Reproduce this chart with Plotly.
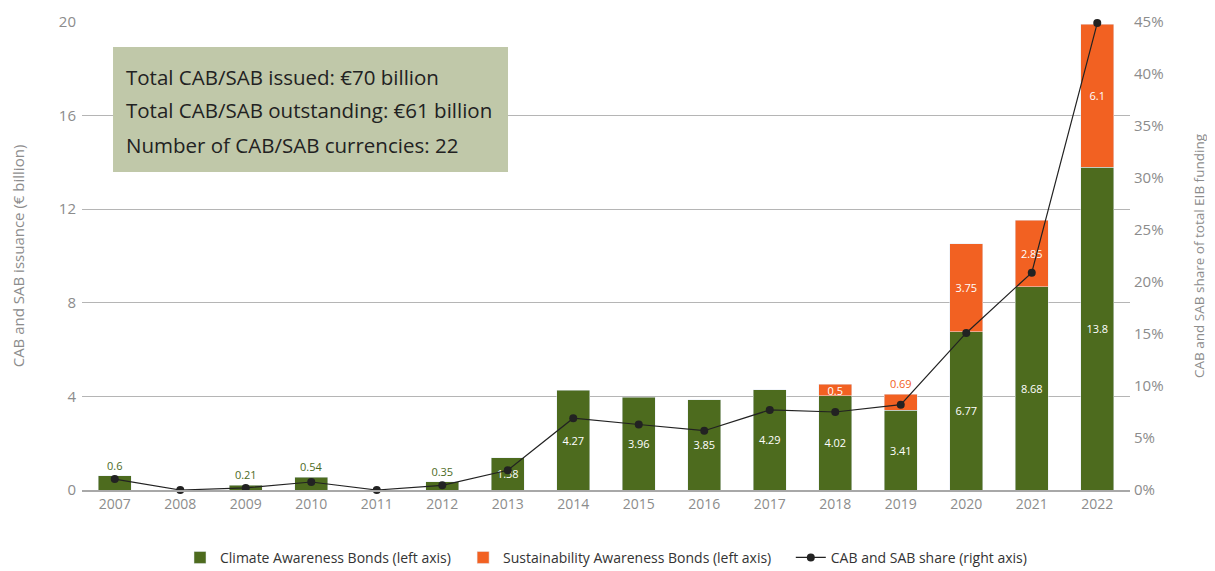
import plotly.graph_objects as go

years = [str(y) for y in range(2007, 2023)]
cab = [0.6, 0, 0.21, 0.54, 0, 0.35, 1.38, 4.27, 3.96, 3.85, 4.29, 4.02, 3.41, 6.77, 8.68, 13.8]
sab = [None, None, None, None, None, None, None, None, None, None, None, 0.5, 0.69, 3.75, 2.85, 6.1]
share = [1.05, 0.0, 0.2, 0.77, 0.0, 0.45, 1.9, 6.9, 6.3, 5.7, 7.7, 7.5, 8.2, 15.1, 20.9, 44.9]
info_lines = [
    "Total CAB/SAB issued: €70 billion",
    "Total CAB/SAB outstanding: €61 billion",
    "Number of CAB/SAB currencies: 22",
]

GREEN = "#4d6b1e"
ORANGE = "#f26122"
GRAY = "#8c8c8c"
FONT = "Open Sans"

cab_text = ["" if v == 0 else f"{v:g}" for v in cab]
cab_pos = ["outside" if v < 1 else "inside" for v in cab]
cab_colors = [GREEN if v < 1 else "white" for v in cab]
sab_text = ["" if v is None else f"{v:g}" for v in sab]
sab_pos = ["outside" if (v is not None and 0.6 < v < 1) else "inside" for v in sab]
sab_colors = [ORANGE if (v is not None and 0.6 < v < 1) else "white" for v in sab]

NB = "\u00a0"
fig = go.Figure()
fig.add_trace(go.Bar(
    x=years, y=cab, name="Climate Awareness Bonds (left axis)" + NB * 2,
    marker_color=GREEN, text=cab_text, textposition=cab_pos,
    textfont=dict(color=cab_colors, size=11, family=FONT),
    insidetextanchor="middle", constraintext="none", cliponaxis=False,
    hoverinfo="skip",
))
fig.add_trace(go.Bar(
    x=years, y=sab, name="Sustainability Awareness Bonds (left axis)" + NB * 4,
    marker_color=ORANGE, text=sab_text, textposition=sab_pos,
    textfont=dict(color=sab_colors, size=11, family=FONT),
    insidetextanchor="middle", constraintext="none", cliponaxis=False,
    hoverinfo="skip",
))
fig.add_trace(go.Scatter(
    x=years, y=share, yaxis="y2", mode="lines+markers",
    name="CAB and SAB share (right axis)",
    line=dict(color="#222222", width=1.2),
    marker=dict(color="#222222", size=8), cliponaxis=False,
))

fig.add_shape(type="rect", xref="paper", yref="paper",
              x0=0.0296, x1=0.4065, y0=0.6795, y1=0.9466,
              fillcolor="#c0c8a9", line=dict(width=0), layer="above")
for line, yy in zip(info_lines, [0.8825, 0.812, 0.737]):
    fig.add_annotation(text=line, xref="paper", yref="paper", x=0.04, y=yy,
                       xanchor="left", yanchor="middle", showarrow=False,
                       font=dict(size=20.5, color="#222222", family=FONT))

fig.update_layout(
    width=1207, height=563,
    margin=dict(l=74, r=85, t=14, b=81, autoexpand=False),
    plot_bgcolor="white", paper_bgcolor="white",
    barmode="stack", bargap=0.5,
    font=dict(family=FONT, color=GRAY, size=13),
    showlegend=True,
    legend=dict(orientation="h", x=0.5, xanchor="center", y=-0.145, yanchor="middle",
                font=dict(size=14, color="#333333"), traceorder="normal",
                itemwidth=30),
    xaxis=dict(type="category", range=[-0.5, 15.5], showline=True, linecolor="#a8a8a8",
               linewidth=1.5, ticks="", automargin=False,
               tickfont=dict(size=14, color=GRAY)),
    yaxis=dict(range=[0, 20], dtick=4, showgrid=True, gridcolor="#b5b5b5", gridwidth=1,
               zeroline=False, ticks="", automargin=False, ticklabelstandoff=5,
               tickfont=dict(size=15, color=GRAY),
               title=dict(text="CAB and SAB issuance (€ billion)", standoff=32,
                          font=dict(size=15, color=GRAY))),
    yaxis2=dict(range=[0, 45], dtick=5, ticksuffix="%", overlaying="y", side="right",
                showgrid=False, zeroline=False, ticks="", automargin=False,
                ticklabelstandoff=3,
                tickfont=dict(size=15, color=GRAY),
                title=dict(text="CAB and SAB share of total EIB funding", standoff=31,
                           font=dict(size=13.5, color=GRAY))),
)

fig.write_html("out.html")
